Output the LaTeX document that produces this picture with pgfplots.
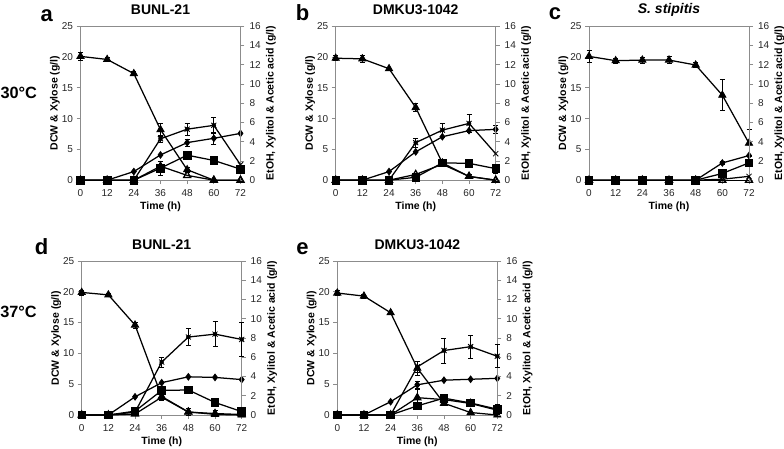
\documentclass[border=0pt]{standalone}
\usepackage{fontspec}
\setmainfont{Liberation Sans}
\usepackage{pgfplots}
\pgfplotsset{compat=1.18}
\pgfplotsset{
 base/.style={scale only axis, width=160pt, height=154pt, xmin=0, xmax=72, clip=false,
   axis line style={draw=black!45, line width=0.9pt},
   every tick/.style={black!45, line width=0.8pt}, tick align=outside, major tick length=4pt,
   tick label style={font=\fontsize{10}{12}\selectfont, text=black!85},
   /pgf/number format/assume math mode=true,
   label style={font=\fontsize{10.5}{12}\selectfont\bfseries},
 },
 leftax/.style={base, ymin=0, ymax=25, ytick={0,5,...,25}, xtick={0,12,...,72},
   ytick pos=left, xtick pos=bottom, xlabel={Time (h)}, ylabel={DCW \& Xylose (g/l)},
   xlabel style={at={(axis description cs:0.5,-0.172)}, anchor=center},
   ylabel style={at={(axis description cs:-0.16,0.5)}, anchor=center},
   xticklabel style={yshift=-1.5pt}},
 rightax/.style={base, ymin=0, ymax=16, ytick={0,2,...,16}, axis y line*=right, axis x line=none,
   ylabel={EtOH, Xylitol \& Acetic acid (g/l)},
   yticklabel style={xshift=1.5pt}, ylabel shift=-1.5pt},
 ser/.style={black, line width=1.25pt, every mark/.append style={solid, line width=0.8pt}},
 xyl/.style={ser, mark=triangle*, mark size=4.2pt},
 dcw/.style={ser, mark=diamond*, mark size=3.3pt},
 eto/.style={ser, mark=x, mark size=3.6pt},
 xlt/.style={ser, mark=square*, mark size=3.8pt},
 ace/.style={ser, mark=triangle, mark size=4pt, mark options={fill=white}},
 eb/.style={forget plot, only marks, mark=none, black,
   error bars/.cd, y dir=both, y explicit,
   error bar style={line width=0.7pt, black},
   error mark options={rotate=90, mark size=2.5pt, black, line width=0.7pt}},
}
\begin{document}
\begin{tikzpicture}
\path[use as bounding box] (0,0) rectangle (784pt,449pt);
% ---------------- panel a ----------------
\begin{axis}[leftax, at={(80.5pt,268.8pt)}]
\addplot[xyl] coordinates {(0,20.1) (12,19.6) (24,17.3) (36,8.2) (48,1.7) (60,0) (72,0)};
\addplot[eb] coordinates {(0,20.1) +- (0,0.6) (12,19.6) +- (0,0.3) (24,17.3) +- (0,0.3) (36,8.2) +- (0,1.1) (48,1.7) +- (0,0.4)};
\addplot[dcw] coordinates {(0,0) (12,0) (24,1.4) (36,4.1) (48,6.1) (60,6.8) (72,7.6)};
\addplot[eb] coordinates {(48,6.1) +- (0,0.6) (60,6.8) +- (0,1.0)};
\end{axis}
\begin{axis}[rightax, at={(80.5pt,268.8pt)}]
\addplot[eto] coordinates {(0,0) (12,0) (24,0) (36,4.3) (48,5.3) (60,5.7) (72,1.6)};
\addplot[eb] coordinates {(36,4.3) +- (0,0.35) (48,5.3) +- (0,0.6) (60,5.7) +- (0,0.8)};
\addplot[xlt] coordinates {(0,0) (12,0) (24,0) (36,1.25) (48,2.6) (60,2.05) (72,1.15)};
\addplot[eb] coordinates {(36,1.25) +- (0,0.7) (72,1.15) +- (0,0.3)};
\addplot[ace] coordinates {(0,0) (12,0) (24,0) (36,1.45) (48,0.5) (60,0) (72,0)};
\end{axis}
% ---------------- panel b ----------------
\begin{axis}[leftax, at={(335.7pt,268.8pt)}]
\addplot[xyl] coordinates {(0,19.8) (12,19.7) (24,18.1) (36,11.8) (48,2.8) (60,0.6) (72,0)};
\addplot[eb] coordinates {(0,19.8) +- (0,0.4) (12,19.7) +- (0,0.5) (36,11.8) +- (0,0.7)};
\addplot[dcw] coordinates {(0,0) (12,0) (24,1.4) (36,4.6) (48,7.05) (60,8.05) (72,8.25)};
\addplot[eb] coordinates {(72,8.25) +- (0,0.6)};
\end{axis}
\begin{axis}[rightax, at={(335.7pt,268.8pt)}]
\addplot[eto] coordinates {(0,0) (12,0) (24,0) (36,3.9) (48,5.2) (60,5.9) (72,2.75)};
\addplot[eb] coordinates {(36,3.9) +- (0,0.45) (48,5.2) +- (0,0.7) (60,5.9) +- (0,0.9)};
\addplot[xlt] coordinates {(0,0) (12,0) (24,0) (36,0.3) (48,1.8) (60,1.75) (72,1.2)};
\addplot[eb] coordinates {(72,1.2) +- (0,0.45)};
\addplot[ace] coordinates {(0,0) (12,0) (24,0) (36,0.6) (48,1.65) (60,0.4) (72,0)};
\addplot[eb] coordinates {(60,0.4) +- (0,0.25)};
\end{axis}
% ---------------- panel c ----------------
\begin{axis}[leftax, at={(589pt,268.8pt)}]
\addplot[xyl] coordinates {(0,20.1) (12,19.4) (24,19.5) (36,19.5) (48,18.7) (60,13.8) (72,6.0)};
\addplot[eb] coordinates {(0,20.1) +- (0,1.0) (12,19.4) +- (0,0.4) (24,19.5) +- (0,0.5) (36,19.5) +- (0,0.6) (48,18.7) +- (0,0.4) (60,13.8) +- (0,2.5) (72,6.0) +- (0,2.2)};
\addplot[dcw] coordinates {(0,0) (12,0) (24,0) (36,0) (48,0) (60,2.8) (72,4.0)};
\addplot[eb] coordinates {(60,2.8) +- (0,0.3)};
\end{axis}
\begin{axis}[rightax, at={(589pt,268.8pt)}]
\addplot[eto] coordinates {(0,0) (12,0) (24,0) (36,0) (48,0) (60,0.1) (72,0.4)};
\addplot[ace] coordinates {(0,0) (12,0) (24,0) (36,0) (48,0) (60,0) (72,0)};
\addplot[xlt] coordinates {(0,0) (12,0) (24,0) (36,0) (48,0) (60,0.7) (72,1.8)};
\end{axis}
% ---------------- panel d ----------------
\begin{axis}[leftax, at={(81.7pt,34pt)}]
\addplot[xyl] coordinates {(0,19.9) (12,19.5) (24,14.6) (36,3.0) (48,0.5) (60,0.1) (72,0)};
\addplot[eb] coordinates {(0,19.9) +- (0,0.4) (12,19.5) +- (0,0.3) (24,14.6) +- (0,0.5) (36,3.0) +- (0,0.6) (48,0.5) +- (0,0.6)};
\addplot[dcw] coordinates {(0,0) (12,0) (24,2.95) (36,5.25) (48,6.2) (60,6.1) (72,5.75)};
\end{axis}
\begin{axis}[rightax, at={(81.7pt,34pt)}]
\addplot[eto] coordinates {(0,0) (12,0) (24,0.3) (36,5.5) (48,8.1) (60,8.4) (72,7.85)};
\addplot[eb] coordinates {(36,5.5) +- (0,0.5) (48,8.1) +- (0,0.9) (60,8.4) +- (0,1.3) (72,7.85) +- (0,1.8)};
\addplot[xlt] coordinates {(0,0) (12,0) (24,0.4) (36,2.55) (48,2.6) (60,1.3) (72,0.35)};
\addplot[eb] coordinates {(60,1.3) +- (0,0.4)};
\addplot[ace] coordinates {(0,0) (12,0) (24,0.1) (36,1.85) (48,0.3) (60,0.15) (72,0.05)};
\addplot[eb] coordinates {(36,1.85) +- (0,0.3) (48,0.3) +- (0,0.35) (60,0.15) +- (0,0.3)};
\end{axis}
% ---------------- panel e ----------------
\begin{axis}[leftax, at={(337.3pt,34pt)}]
\addplot[xyl] coordinates {(0,19.8) (12,19.3) (24,16.6) (36,7.6) (48,1.9) (60,0.4) (72,0)};
\addplot[eb] coordinates {(0,19.8) +- (0,0.4) (12,19.3) +- (0,0.3) (24,16.6) +- (0,0.3) (36,7.6) +- (0,1.1)};
\addplot[dcw] coordinates {(0,0) (12,0) (24,2.15) (36,4.9) (48,5.65) (60,5.8) (72,5.95)};
\addplot[eb] coordinates {(36,4.9) +- (0,0.6)};
\end{axis}
\begin{axis}[rightax, at={(337.3pt,34pt)}]
\addplot[eto] coordinates {(0,0) (12,0) (24,0) (36,5.0) (48,6.7) (60,7.1) (72,6.1)};
\addplot[eb] coordinates {(36,5.0) +- (0,0.6) (48,6.7) +- (0,1.3) (60,7.1) +- (0,1.2) (72,6.1) +- (0,1.2)};
\addplot[xlt] coordinates {(0,0) (12,0) (24,0) (36,0.95) (48,1.75) (60,1.25) (72,0.6)};
\addplot[ace] coordinates {(0,0) (12,0) (24,0) (36,1.8) (48,1.6) (60,1.2) (72,0.5)};
\addplot[eb] coordinates {(36,1.8) +- (0,0.9) (72,0.5) +- (0,0.6)};
\end{axis}
% ---------------- texts ----------------
\begin{scope}[every node/.style={font=\fontsize{14}{16}\selectfont\bfseries, anchor=base, inner sep=0pt}]
\node at (160.5pt,434pt) {BUNL-21};
\node at (415.7pt,434pt) {DMKU3-1042};
\node at (669pt,435.5pt) {\itshape S. stipitis};
\node at (161.7pt,199.7pt) {BUNL-21};
\node at (417.3pt,199.7pt) {DMKU3-1042};
\end{scope}
\begin{scope}[every node/.style={font=\fontsize{22}{24}\selectfont\bfseries, anchor=base, inner sep=0pt}]
\node at (46.7pt,427.5pt) {a};
\node at (302.5pt,428.3pt) {b};
\node at (555pt,429pt) {c};
\node at (41.7pt,194pt) {d};
\node at (302.5pt,194pt) {e};
\end{scope}
\begin{scope}[every node/.style={font=\fontsize{16.3}{18}\selectfont\bfseries, anchor=center, inner sep=0pt}]
\node at (18.8pt,356.3pt) {30°C};
\node at (18.5pt,137.3pt) {37°C};
\end{scope}
\end{tikzpicture}
\end{document}
